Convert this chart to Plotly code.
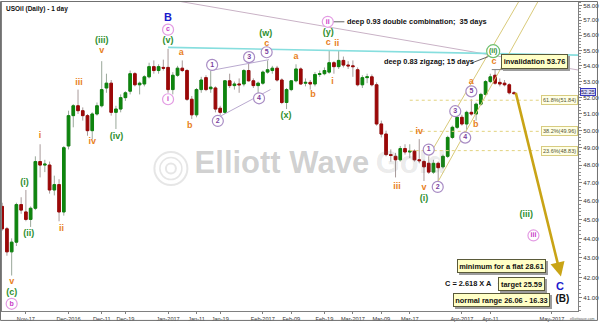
import math
import numpy as np
import pandas as pd
import plotly.graph_objects as go

# ---------------- data ----------------
holidays = ['2016-11-24', '2016-12-26', '2017-01-02', '2017-01-16', '2017-02-20', '2017-04-14']
calendar = pd.bdate_range('2016-11-10', '2017-05-12', freq='C', holidays=holidays)

opens = [45.7, 44.5, 43.3, 43.8, 45.8, 45.4, 45.0, 45.6, 48.2, 48.0,
         48.0, 46.6, 46.9, 45.4, 49.1, 50.9, 51.5, 51.2, 50.9, 50.0,
         51.0, 51.5, 52.6, 52.9, 51.1, 51.3, 52.0, 52.4, 53.5, 52.8,
         52.85, 53.3, 53.95, 53.7, 53.9, 53.9, 52.5, 53.4, 53.85, 53.7,
         51.9, 50.95, 52.5, 53.25, 52.55, 52.6, 51.35, 51.1, 53.05, 52.75,
         52.85, 52.85, 53.7, 53.05, 52.75, 52.9, 53.6, 53.7, 53.85, 53.1,
         51.7, 52.5, 53.05, 53.8, 52.9, 52.95, 52.85, 53.45, 53.5, 53.6,
         54.2, 53.95, 54.35, 54.05, 54.0, 53.75, 52.8, 53.25, 53.3, 52.8,
         50.4, 49.8, 48.6, 48.5, 48.3, 48.95, 48.75, 48.8, 48.3, 48.2,
         48.1, 47.6, 48.1, 47.9, 48.5, 49.6, 50.2, 50.8, 50.4, 51.1,
         51.0, 51.6, 52.2, 53.0, 53.4, 52.95, 52.9, 52.8, 52.3]
highs = [45.9, 44.6, 44.0, 45.9, 46.2, 46.6, 45.7, 48.5, 49.2, 48.3,
         48.2, 47.4, 47.2, 49.1, 51.2, 51.6, 52.5, 51.4, 51.0, 51.1,
         51.7, 54.3, 53.5, 53.1, 51.5, 52.2, 52.4, 53.7, 53.6, 53.0,
         53.4, 54.2, 54.35, 54.1, 54.4, 55.1, 53.6, 54.0, 54.35, 53.8,
         52.1, 52.6, 53.3, 53.4, 53.7, 52.7, 51.5, 53.1, 53.5, 53.0,
         53.2, 53.8, 54.3, 53.2, 53.0, 53.7, 54.35, 54.0, 54.0, 53.2,
         52.6, 53.1, 54.1, 53.9, 53.2, 53.1, 53.6, 53.7, 53.9, 55.0,
         54.3, 55.0, 54.6, 54.3, 54.35, 53.9, 53.4, 53.5, 53.45, 52.95,
         50.6, 50.0, 48.9, 48.7, 49.1, 49.2, 49.2, 48.9, 49.5, 48.3,
         48.5, 48.3, 48.2, 48.6, 49.7, 50.3, 51.0, 50.95, 51.2, 51.9,
         51.7, 52.3, 53.1, 53.5, 53.76, 53.2, 53.1, 52.9, 52.4]
lows = [44.4, 43.1, 42.1, 43.6, 45.3, 44.9, 44.6, 45.5, 47.3, 47.6,
        46.4, 46.3, 44.9, 45.2, 48.9, 50.2, 51.0, 50.6, 49.7, 49.5,
        50.9, 51.4, 52.3, 50.9, 50.1, 51.1, 51.8, 52.2, 52.7, 52.2,
        52.7, 53.2, 53.5, 53.5, 53.7, 52.3, 52.2, 53.3, 53.6, 51.8,
        50.7, 50.8, 52.3, 52.4, 52.3, 51.1, 50.95, 51.0, 52.6, 52.5,
        52.3, 52.7, 53.0, 52.6, 52.2, 52.8, 53.5, 53.5, 53.0, 51.6,
        51.3, 52.4, 52.95, 52.8, 52.7, 52.5, 52.7, 53.3, 53.4, 53.5,
        53.5, 53.8, 53.9, 53.8, 53.3, 52.7, 52.6, 52.9, 52.7, 50.3,
        49.6, 48.5, 48.2, 47.3, 48.2, 48.6, 48.4, 48.2, 48.1, 47.1,
        47.5, 47.5, 47.1, 47.8, 48.4, 49.5, 50.1, 50.3, 50.05, 50.9,
        50.6, 51.5, 52.1, 52.9, 52.8, 52.7, 52.7, 52.2, 52.2]
closes = [44.5, 43.3, 43.8, 45.8, 45.5, 45.0, 45.6, 48.2, 48.0, 48.05,
          46.6, 46.9, 45.4, 49.0, 50.9, 51.5, 51.2, 50.9, 50.0, 51.0,
          51.5, 52.5, 52.9, 51.1, 51.3, 52.0, 52.3, 53.5, 52.8, 52.9,
          53.3, 53.95, 53.7, 53.95, 53.85, 52.5, 53.4, 53.85, 53.7, 51.9,
          50.95, 52.5, 53.1, 52.5, 52.65, 51.3, 51.1, 53.05, 52.75, 52.85,
          52.8, 53.7, 53.05, 52.75, 52.9, 53.6, 53.75, 53.85, 53.1, 51.7,
          52.5, 53.05, 53.8, 52.85, 52.95, 52.85, 53.45, 53.5, 53.7, 54.2,
          53.95, 54.35, 54.05, 54.0, 53.95, 52.8, 53.25, 53.3, 52.8, 50.4,
          49.8, 48.6, 48.55, 48.3, 48.95, 48.75, 48.8, 48.3, 48.25, 47.9,
          47.6, 48.1, 47.85, 48.5, 49.6, 50.2, 50.8, 50.4, 51.1, 51.0,
          51.6, 52.2, 53.0, 53.3, 52.9, 52.85, 52.8, 52.3, 52.25]

tick_dates = ['2016-11-17', '2016-12-01', '2016-12-12', '2016-12-19', '2017-01-03', '2017-01-11',
              '2017-01-19', '2017-02-01', '2017-02-09', '2017-02-21', '2017-03-01', '2017-03-09',
              '2017-03-17', '2017-04-03', '2017-04-11', '2017-05-01']
tick_text = ['Nov-17', 'Dec-2016', 'Dec-11', 'Dec-19', 'Jan-2017', 'Jan-11', 'Jan-19', 'Feb-2017',
             'Feb-09', 'Feb-19', 'Mar-2017', 'Mar-09', 'Mar-17', 'Apr-2017', 'Apr-11', 'May-2017']
price_ticks = list(range(41, 59))

fib_pct = ['61.8%', '38.2%', '23.6%']
fib_price = [51.84, 49.96, 48.83]
invalidation = 53.76
last_price = 52.25

# ---------------- positions on the trading-day axis ----------------
base = calendar.get_loc(pd.Timestamp('2016-11-14'))
xs = np.arange(len(opens)) - base
tickvals = [calendar.get_loc(pd.Timestamp(d)) - base for d in tick_dates]

FONT = "Liberation Sans, Arial, sans-serif"
ORANGE = '#e8801c'
GREEN = '#2f8f2f'
MAG = '#c83cc8'
MAG_LINE = '#e39be3'
PURP = '#7a3d9e'
PURP_LINE = '#a88cc4'
BLUE = '#1a1acc'

fig = go.Figure()

# watermark (semi transparent so candles show through)
fig.add_trace(go.Scatter(x=[38.6], y=[48.0], mode='text', text=['<b>Elliott Wave</b>'],
                         textposition='middle right', hoverinfo='skip',
                         textfont=dict(size=31, family=FONT, color='rgba(110,110,110,0.33)')))
fig.add_trace(go.Scatter(x=[76.8], y=[48.0], mode='text', text=['<b>Gold</b>'],
                         textposition='middle right', hoverinfo='skip',
                         textfont=dict(size=31, family=FONT, color='rgba(110,110,110,0.15)')))
fig.add_trace(go.Scatter(x=[33.6, 33.6, 33.6], y=[47.8, 47.8, 47.8], mode='markers', hoverinfo='skip',
                         marker=dict(symbol='circle-open', size=[33, 22, 10], color='#dcdcdc',
                                     line=dict(width=[2, 1.5, 2]))))

def line(x0, y0, x1, y1, color, width=1, dash='solid'):
    fig.add_trace(go.Scatter(x=[x0, x1], y=[y0, y1], mode='lines', hoverinfo='skip',
                             line=dict(color=color, width=width, dash=dash)))

# long trend lines
line(25, 58.89, 119.6, 53.73, '#c9b2c6', 1)
line(33, 55.2, 119.6, 54.69, '#86dede', 1.6)
# ending diagonal
line(42, 53.7, 54.3, 54.4, '#b9a9cf', 1)
line(43.6, 50.8, 54.6, 52.5, '#b9a9cf', 1)
# channel (through waves 2-4, and its parallel through wave 3)
line(89.3, 46.75, 113, 59.45, '#d9ca7a', 1)
line(88.0, 48.5, 110, 60.0, '#d9ca7a', 1)
# fibonacci levels
for p in fib_price:
    line(84, p, 112.6, p, '#e2d27e', 1, 'dot')
# invalidation connector and text connectors
line(101.3, invalidation, 103.7, invalidation, '#808080', 1)
line(67.8, 56.9, 70.2, 56.9, '#606060', 1)
line(97.2, 54.2, 100.6, 54.6, '#606060', 1)
line(102.6, 41.71, 104.3, 41.71, '#606060', 1)

# candles: wicks (gray) then bodies
fig.add_trace(go.Candlestick(x=xs, open=opens, high=highs, low=lows, close=closes,
                             increasing=dict(line=dict(color='#9aa89a', width=1), fillcolor='#9aa89a'),
                             decreasing=dict(line=dict(color='#a89a9a', width=1), fillcolor='#a89a9a'),
                             whiskerwidth=0, hoverinfo='skip'))
body_hi = [max(o, c) for o, c in zip(opens, closes)]
body_lo = [min(o, c) for o, c in zip(opens, closes)]
fig.add_trace(go.Candlestick(x=xs, open=opens, high=body_hi, low=body_lo, close=closes,
                             increasing=dict(line=dict(color='#0e850e', width=1), fillcolor='#0e850e'),
                             decreasing=dict(line=dict(color='#9c0808', width=1), fillcolor='#9c0808'),
                             whiskerwidth=0, hoverinfo='skip'))

# plain wave labels
orange_lbl = [('v', 0, 41.81), ('i', 6, 49.70), ('ii', 10.5, 44.53), ('iii', 14.2, 52.94),
              ('iv', 17, 49.36), ('v', 19, 54.95), ('a', 35.8, 54.82), ('b', 37.6, 50.32),
              ('c', 53.8, 55.46), ('a', 60, 54.56), ('b', 63.6, 52.20), ('c', 66.8, 55.52),
              ('i', 67.7, 53.0), ('ii', 68.6, 55.46), ('iii', 81.3, 46.77), ('iv', 86, 49.94),
              ('v', 87, 46.72), ('a', 97, 53.0), ('b', 97.9, 50.35), ('c', 101.8, 54.25)]
green_lbl = [('(c)', 0, 41.26), ('(i)', 2.7, 46.99), ('(ii)', 3.6, 44.26), ('(iii)', 19, 55.65),
             ('(iv)', 22.1, 49.64), ('(v)', 33, 55.65), ('(w)', 53.6, 56.11), ('(x)', 57.9, 50.88),
             ('(y)', 66.8, 56.17), ('(i)', 87, 46.12), ('(iii)', 108.6, 45.27)]
for lbls, col in ((orange_lbl, ORANGE), (green_lbl, GREEN)):
    fig.add_trace(go.Scatter(x=[l[1] for l in lbls], y=[l[2] for l in lbls], mode='text',
                             text=['<b>%s</b>' % l[0] for l in lbls], textposition='middle center',
                             cliponaxis=False, hoverinfo='skip',
                             textfont=dict(size=9, family=FONT, color=col)))
fig.add_trace(go.Scatter(x=[33, 115.7], y=[57.17, 41.51], mode='text', text=['<b>B</b>', '<b>C</b>'],
                         textposition='middle center', cliponaxis=False, hoverinfo='skip',
                         textfont=dict(size=11, family=FONT, color=BLUE)))
fig.add_trace(go.Scatter(x=[116.2], y=[40.91], mode='text', text=['<b>(B)</b>'],
                         textposition='middle center', cliponaxis=False, hoverinfo='skip',
                         textfont=dict(size=10, family=FONT, color='#111111')))

# circled labels
def circled(lbls, txtcol, linecol, size=11):
    fig.add_trace(go.Scatter(x=[l[1] for l in lbls], y=[l[2] for l in lbls], mode='markers+text',
                             text=['<b>%s</b>' % l[0] for l in lbls], textposition='middle center',
                             cliponaxis=False, hoverinfo='skip',
                             marker=dict(symbol='circle', size=size, color='white',
                                         line=dict(color=linecol, width=1.2)),
                             textfont=dict(size=7, family=FONT, color=txtcol)))

circled([('b', 0, 40.71), ('c', 33, 56.37), ('i', 33, 51.90), ('ii', 66.7, 56.90), ('iii', 110.1, 44.15)],
        MAG, MAG_LINE)
circled([('1', 42.3, 54.06), ('2', 43.5, 50.58), ('3', 50.1, 54.56), ('4', 52.2, 51.96), ('5', 53.8, 54.88),
         ('1', 88, 48.89), ('2', 89.9, 46.77), ('3', 93.6, 51.17), ('4', 95.7, 49.59), ('5', 97, 52.39)],
        PURP, PURP_LINE)
circled([('(ii)', 101.6, 54.95)], GREEN, '#6fbf6f', 13)

# ---------------- annotations ----------------
L = math.log10
anns = []
TXT = 7.4

def boxed(text, x, y, w, h=10, size=TXT):
    # drop shadow (empty box), then the labelled box
    anns.append(dict(x=x, y=L(y), xref='x', yref='y', text=' ', showarrow=False, width=w, height=h,
                     bgcolor='#9c9c9c', borderpad=1, borderwidth=1, bordercolor='#9c9c9c',
                     xshift=2, yshift=-2, font=dict(size=size, family=FONT)))
    anns.append(dict(x=x, y=L(y), xref='x', yref='y', text='<b>%s</b>' % text, showarrow=False,
                     width=w, height=h, font=dict(size=size, family=FONT, color='#111111'),
                     bgcolor='#ffffc6', bordercolor='#5a5a3a', borderwidth=1, borderpad=1))

def plain(text, x, y, size=TXT, anchor='left'):
    anns.append(dict(x=x, y=L(y), xref='x', yref='y', text='<b>%s</b>' % text, showarrow=False,
                     xanchor=anchor, font=dict(size=size, family=FONT, color='#111111')))

plain('deep 0.93 double combination;  35 days', 70.4, 56.9)
plain('deep 0.83 zigzag; 15 days', 78.1, 54.25)
boxed('invalidation %.2f' % invalidation, 110.4, 54.31, 63, 11)
boxed('minimum for a flat 28.61', 103.3, 42.58, 85)
plain('C = 2.618 X A', 91.1, 41.71)
boxed('target 25.59', 107.6, 41.69, 43)
boxed('normal range 26.06 - 16.33', 103.4, 40.91, 93)

for pct, p in zip(fib_pct, fib_price):
    anns.append(dict(x=115.5, y=L(p), xref='x', yref='y', text='%s(%.2f)' % (pct, p), showarrow=False,
                     font=dict(size=5.5, family=FONT, color='#555533'), bgcolor='#ffffe6',
                     bordercolor='#d8cc80', borderwidth=1, borderpad=1))

# projection arrow
anns.append(dict(x=115.9, y=L(42.05), ax=106.3, ay=L(52.39), xref='x', yref='y', axref='x', ayref='y',
                 text='', showarrow=True, arrowhead=2, arrowsize=1.1, arrowwidth=2.6,
                 arrowcolor='#c9a416', standoff=0, startstandoff=0))

# title, last price tag, credit
anns.append(dict(x=0.004, y=0.997, xref='paper', yref='paper', xanchor='left', yanchor='top',
                 text='<b>USOil (Daily) - 1 day</b>', showarrow=False,
                 font=dict(size=6.5, family=FONT, color='#111111')))
anns.append(dict(x=1.0, y=L(last_price), xref='paper', yref='y', xanchor='left', xshift=2, yshift=2,
                 text='%.2f' % last_price, showarrow=False, font=dict(size=5.5, family=FONT, color='#202060'),
                 bgcolor='#d8d8f6', bordercolor='#3a3ac0', borderwidth=1, borderpad=0))
anns.append(dict(x=1.033, y=0, xref='paper', yref='paper', xanchor='right', yanchor='top', yshift=-4,
                 text='elliottwave.com', showarrow=False, font=dict(size=3.6, family=FONT, color='#666666')))

fig.update_layout(
    width=600, height=323,
    margin=dict(l=2, r=20, t=1, b=10),
    paper_bgcolor='white', plot_bgcolor='white',
    showlegend=False,
    boxgap=0.22,
    annotations=anns,
    shapes=[dict(type='rect', xref='paper', yref='paper', x0=-0.0026, x1=1.0338, y0=-0.0305, y1=1.0016,
                 line=dict(color='#707070', width=1))],
    xaxis=dict(range=[-2.04, 119.5], showgrid=False, zeroline=False, rangeslider=dict(visible=False),
               tickmode='array', tickvals=tickvals, ticktext=tick_text, ticks='outside', ticklen=2,
               tickangle=0, tickcolor='#808080', tickfont=dict(size=5.6, family=FONT, color='#333333'),
               showline=True, linecolor='#808080', linewidth=1, mirror=True),
    yaxis=dict(type='log', side='right', range=[L(40.363), L(58.253)], showgrid=False, zeroline=False,
               tickmode='array', tickvals=price_ticks, ticktext=['%.2f' % v for v in price_ticks],
               ticks='outside', ticklen=3, tickcolor='#808080',
               tickfont=dict(size=6.2, family=FONT, color='#333333'),
               minor=dict(tickmode='array', tickvals=[v + f for v in range(40, 59) for f in (0.2, 0.4, 0.6, 0.8)],
                          ticks='outside', ticklen=2, tickcolor='#909090'),
               showline=True, linecolor='#808080', linewidth=1, mirror=True),
)

fig.write_html('out.html')
